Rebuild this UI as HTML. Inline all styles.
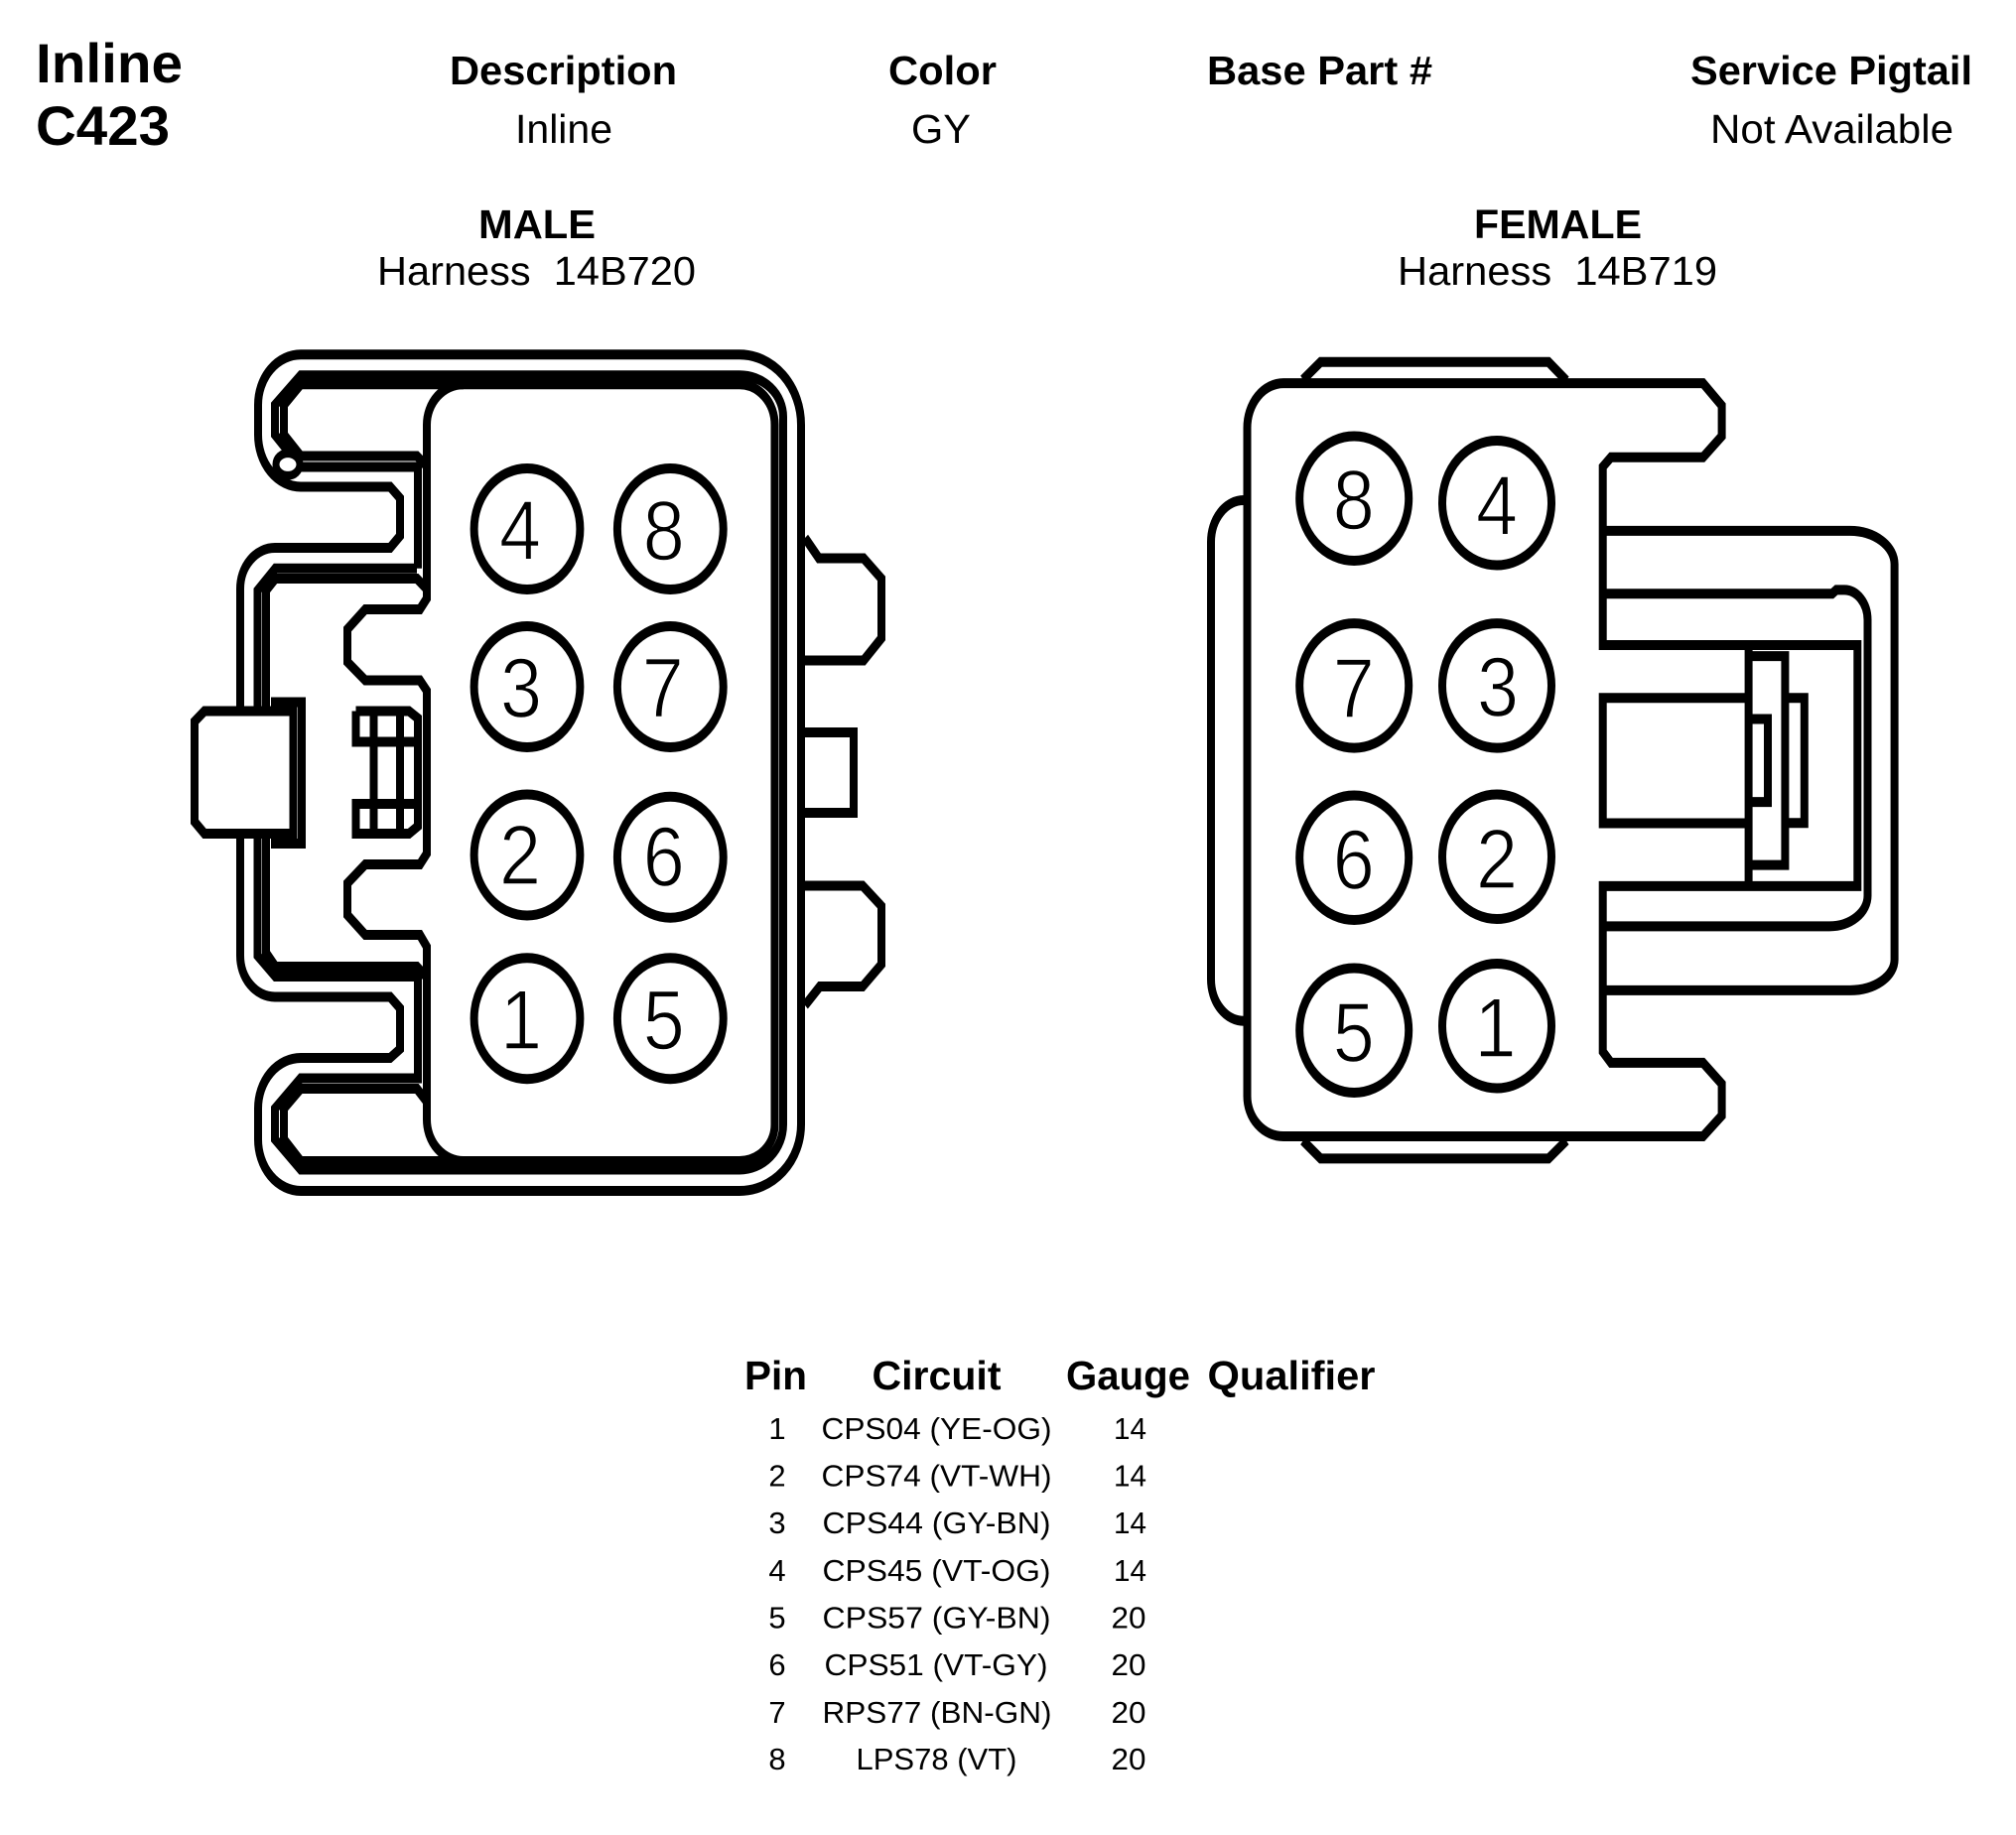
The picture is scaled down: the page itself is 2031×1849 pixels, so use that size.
<!DOCTYPE html>
<html><head><meta charset="utf-8"><style>
html,body{margin:0;padding:0;background:#fff}
svg{display:block}
text{font-family:"Liberation Sans",Arial,sans-serif;fill:#000}
.b{font-weight:bold;font-size:41px}
.r{font-size:41px}
.t{font-size:31px}
.d{font-size:85px;text-anchor:middle;stroke:#fff;stroke-width:1.5px;paint-order:fill stroke}
.m{text-anchor:middle}
g.l *{fill:none;stroke:#000;stroke-width:8;stroke-linejoin:miter;stroke-linecap:butt}
g.l .w{fill:#fff}
</style></head><body>
<svg xmlns="http://www.w3.org/2000/svg" width="2031" height="1849" viewBox="0 0 2031 1849">
<rect width="2031" height="1849" fill="#fff"/>
<text class="b" style="font-size:56px" x="36" y="83" textLength="148" lengthAdjust="spacingAndGlyphs">Inline</text>
<text class="b" style="font-size:56px" x="36" y="146" textLength="135" lengthAdjust="spacingAndGlyphs">C423</text>
<text class="b" x="453" y="85" textLength="229" lengthAdjust="spacingAndGlyphs">Description</text>
<text class="b" x="895" y="85" textLength="109" lengthAdjust="spacingAndGlyphs">Color</text>
<text class="b" x="1216" y="85" textLength="227" lengthAdjust="spacingAndGlyphs">Base Part #</text>
<text class="b" x="1703" y="85" textLength="284" lengthAdjust="spacingAndGlyphs">Service Pigtail</text>
<text class="r" x="519" y="144" textLength="98" lengthAdjust="spacingAndGlyphs">Inline</text>
<text class="r" x="918" y="144" textLength="60" lengthAdjust="spacingAndGlyphs">GY</text>
<text class="r" x="1723" y="144" textLength="245" lengthAdjust="spacingAndGlyphs">Not Available</text>
<text class="b" x="482" y="240" textLength="118" lengthAdjust="spacingAndGlyphs">MALE</text>
<text class="b" x="1485" y="240" textLength="169" lengthAdjust="spacingAndGlyphs">FEMALE</text>
<text class="r" x="380" y="287" textLength="321" lengthAdjust="spacingAndGlyphs">Harness&#160;&#160;14B720</text>
<text class="r" x="1408" y="287" textLength="322" lengthAdjust="spacingAndGlyphs">Harness&#160;&#160;14B719</text>

<!-- MALE -->
<g class="l" transform="scale(1,1.25)">
<path d="M303,285.8 L745,285.8 A62,56.6 0 0 1 807,342.4 L807,906.4 A62,53.6 0 0 1 745,960 L303,960 A43,41.6 0 0 1 260,918.4 L260,893.6 A43,40.8 0 0 1 303,852.8 L393,852.8 L403,845.6 L403,812.8 L393,803.6 L277,803.6 A35,33.3 0 0 1 242,770.3 L242,474.6 A35,33 0 0 1 277,441.6 L393,441.6 L403,432 L403,401.6 L393,392.4 L303,392.4 A43,42 0 0 1 260,350.4 L260,326.4 A43,40.6 0 0 1 303,285.8 Z"/>
<path d="M420,458.2 L277.5,458.2 L259.5,476 L259.5,770.4 L277.5,787.2 L421,787.2 L421,869.2 L303,869.2 L277,893.6 L277,918.4 L303,942.8 L745,942.8 A44,36.4 0 0 0 789,906.4 L789,336 A44,33.4 0 0 0 745,302.6 L303,302.6 L277,326.4 L277,350.4 L303,376.4 L421,376.4 L421,458.2"/>
<path d="M429,474 L420,466.4 L277.5,466.4 L268,476 L268,768 L277.5,779.2 L420,779.2 L429,787"/>
<path d="M429,887 L420,877.6 L303,877.6 L286,893.6 L286,918.4 L303,936 L745,936 A35.5,29.6 0 0 0 780.5,906.4 L780.5,342.4 A35.5,32.6 0 0 0 745,309.8 L303,309.8 L286,326.4 L286,350.4 L303,367.6 L420,367.6 L429,375"/>
<path d="M467,936 A37,33.6 0 0 1 430,902.4 L430,763.2 L423,753.6 L368,753.6 L350,737.6 L350,712 L368,696.8 L423,696.8 L430,688 L430,556.8 L423,548.4 L368,548.4 L350,533.6 L350,507.2 L368,491.2 L423,491.2 L430,482.4 L430,342.4 A37,32.6 0 0 1 467,309.8"/>
<ellipse class="w" cx="290" cy="374.4" rx="12" ry="9" style="stroke-width:7"/>
<path d="M273,566 L304,566 L304,680 L273,680"/>
<path class="w" d="M196,581.6 L206,573.2 L295.5,573.2 L295.5,672 L206,672 L196,662.4 Z"/>
<path d="M358.5,573.2 L412,573.2 L421,579 L421,666 L412,672 L358.5,672 L358.5,648 L421,648 M358.5,573.2 L358.5,598 L421,598 M376.5,573.2 L376.5,672 M403,573.2 L403,672"/>
<path d="M811,433.6 L825,450 L870,450 L888,466.4 L888,514.4 L870,532.4 L811,532.4"/>
<path d="M811,590.4 L860,590.4 L860,655.2 L811,655.2"/>
<path d="M811,714 L869,714 L888,730.4 L888,777.4 L869,795.2 L826,795.2 L811,810.4"/>
<ellipse cx="531" cy="426.4" rx="53.4" ry="48.8"/><ellipse cx="675.3" cy="426.4" rx="53.4" ry="48.8"/>
<ellipse cx="531" cy="553.6" rx="53.4" ry="48.8"/><ellipse cx="675.3" cy="553.6" rx="53.4" ry="48.8"/>
<ellipse cx="531" cy="689.2" rx="53.4" ry="48.8"/><ellipse cx="675.3" cy="691" rx="53.4" ry="48.8"/>
<ellipse cx="531" cy="821" rx="53.4" ry="48.8"/><ellipse cx="675.3" cy="821" rx="53.4" ry="48.8"/>
</g>
<text class="d" x="524" y="564" textLength="42" lengthAdjust="spacingAndGlyphs">4</text><text class="d" x="668.7" y="564" textLength="42" lengthAdjust="spacingAndGlyphs">8</text>
<text class="d" x="525" y="722.4" textLength="42" lengthAdjust="spacingAndGlyphs">3</text><text class="d" x="667.7" y="722.4" textLength="42" lengthAdjust="spacingAndGlyphs">7</text>
<text class="d" x="524" y="890.8" textLength="42" lengthAdjust="spacingAndGlyphs">2</text><text class="d" x="668.7" y="892.5" textLength="42" lengthAdjust="spacingAndGlyphs">6</text>
<text class="d" x="525" y="1056.8" textLength="42" lengthAdjust="spacingAndGlyphs">1</text><text class="d" x="668.7" y="1056.8" textLength="42" lengthAdjust="spacingAndGlyphs">5</text>

<!-- FEMALE -->
<g class="l" transform="scale(1,1.25)">
<path d="M1312.7,306 L1330.5,291.8 L1560,291.8 L1578,306.7"/>
<path d="M1312.7,919.5 L1330.5,933.9 L1560,933.9 L1578,919.5"/>
<path d="M1253,403.2 A33,33.7 0 0 0 1220,436.9 L1220,789.3 A33,33.7 0 0 0 1253,823"/>
<path d="M1614.7,427.9 L1863.7,427.9 A45,27 0 0 1 1908.6,454.8 L1908.6,773.6 A45,24.7 0 0 1 1863.7,798.3 L1614.7,798.3"/>
<path d="M1614.7,478.6 L1845.8,478.6 L1850,475.5 L1858,475.5 A23.5,24.2 0 0 1 1881.5,499.7 L1881.5,722 A38.5,24.7 0 0 1 1843,746.7 L1614.7,746.7"/>
<path d="M1293,308.9 L1715.7,308.9 L1734.6,326.9 L1734.6,351.6 L1715.7,368.6 L1623,368.6 L1614.7,376.3 L1614.7,520 L1871.3,520 L1871.3,714.3 L1614.7,714.3 L1614.7,847.7 L1623,856.7 L1715.7,856.7 L1734.6,873.7 L1734.6,899.3 L1715.7,916 L1293,916 A36.5,32.4 0 0 1 1256.5,883.6 L1256.5,344.8 A36.5,35.9 0 0 1 1293,308.9 Z"/>
<path d="M1761.6,562.6 L1614.7,562.6 L1614.7,663.6 L1761.6,663.6"/>
<path d="M1761.6,524 L1761.6,712"/>
<path d="M1761.6,528.9 L1798.4,528.9 L1798.4,697.3 L1761.6,697.3"/>
<path d="M1798.4,562.6 L1817.8,562.6 L1817.8,663.4 L1798.4,663.4"/>
<path d="M1761.6,579.6 L1781,579.6 L1781,646.5 L1761.6,646.5"/>
<ellipse cx="1364.2" cy="401.8" rx="55" ry="50.2"/><ellipse cx="1508" cy="405.4" rx="55" ry="50.2"/>
<ellipse cx="1364.2" cy="552.7" rx="55" ry="50.2"/><ellipse cx="1508" cy="552.7" rx="55" ry="50.2"/>
<ellipse cx="1364.2" cy="691.4" rx="55" ry="50.2"/><ellipse cx="1508" cy="690.6" rx="55" ry="50.2"/>
<ellipse cx="1364.2" cy="830.6" rx="55" ry="50.2"/><ellipse cx="1508" cy="827" rx="55" ry="50.2"/>
</g>
<text class="d" x="1363.7" y="533" textLength="42" lengthAdjust="spacingAndGlyphs">8</text><text class="d" x="1508" y="538.8" textLength="42" lengthAdjust="spacingAndGlyphs">4</text>
<text class="d" x="1363.7" y="722.8" textLength="42" lengthAdjust="spacingAndGlyphs">7</text><text class="d" x="1509" y="721.7" textLength="42" lengthAdjust="spacingAndGlyphs">3</text>
<text class="d" x="1363.7" y="895.7" textLength="42" lengthAdjust="spacingAndGlyphs">6</text><text class="d" x="1508" y="895" textLength="42" lengthAdjust="spacingAndGlyphs">2</text>
<text class="d" x="1363.7" y="1069.7" textLength="42" lengthAdjust="spacingAndGlyphs">5</text><text class="d" x="1506.5" y="1065" textLength="42" lengthAdjust="spacingAndGlyphs">1</text>

<!-- TABLE -->
<text class="b" x="750" y="1400" textLength="63" lengthAdjust="spacingAndGlyphs">Pin</text>
<text class="b" x="878.5" y="1400" textLength="130" lengthAdjust="spacingAndGlyphs">Circuit</text>
<text class="b" x="1074" y="1400" textLength="125" lengthAdjust="spacingAndGlyphs">Gauge</text>
<text class="b" x="1216.5" y="1400" textLength="169" lengthAdjust="spacingAndGlyphs">Qualifier</text>

<g class="t">
<text class="m" x="783" y="1450">1</text><text x="827.5" y="1450" textLength="232" lengthAdjust="spacingAndGlyphs">CPS04 (YE-OG)</text><text x="1122" y="1450" textLength="33" lengthAdjust="spacingAndGlyphs">14</text>
<text class="m" x="783" y="1497.5">2</text><text x="827.5" y="1497.5" textLength="232" lengthAdjust="spacingAndGlyphs">CPS74 (VT-WH)</text><text x="1122" y="1497.5" textLength="33" lengthAdjust="spacingAndGlyphs">14</text>
<text class="m" x="783" y="1545">3</text><text x="828.5" y="1545" textLength="230" lengthAdjust="spacingAndGlyphs">CPS44 (GY-BN)</text><text x="1122" y="1545" textLength="33" lengthAdjust="spacingAndGlyphs">14</text>
<text class="m" x="783" y="1593">4</text><text x="828.5" y="1593" textLength="230" lengthAdjust="spacingAndGlyphs">CPS45 (VT-OG)</text><text x="1122" y="1593" textLength="33" lengthAdjust="spacingAndGlyphs">14</text>
<text class="m" x="783" y="1640.5">5</text><text x="828.5" y="1640.5" textLength="230" lengthAdjust="spacingAndGlyphs">CPS57 (GY-BN)</text><text x="1119.5" y="1640.5" textLength="35" lengthAdjust="spacingAndGlyphs">20</text>
<text class="m" x="783" y="1688">6</text><text x="830.5" y="1688" textLength="225" lengthAdjust="spacingAndGlyphs">CPS51 (VT-GY)</text><text x="1119.5" y="1688" textLength="35" lengthAdjust="spacingAndGlyphs">20</text>
<text class="m" x="783" y="1736">7</text><text x="828.5" y="1736" textLength="231" lengthAdjust="spacingAndGlyphs">RPS77 (BN-GN)</text><text x="1119.5" y="1736" textLength="35" lengthAdjust="spacingAndGlyphs">20</text>
<text class="m" x="783" y="1783">8</text><text x="862.5" y="1783" textLength="162" lengthAdjust="spacingAndGlyphs">LPS78 (VT)</text><text x="1119.5" y="1783" textLength="35" lengthAdjust="spacingAndGlyphs">20</text>
</g>
</svg>
</body></html>
